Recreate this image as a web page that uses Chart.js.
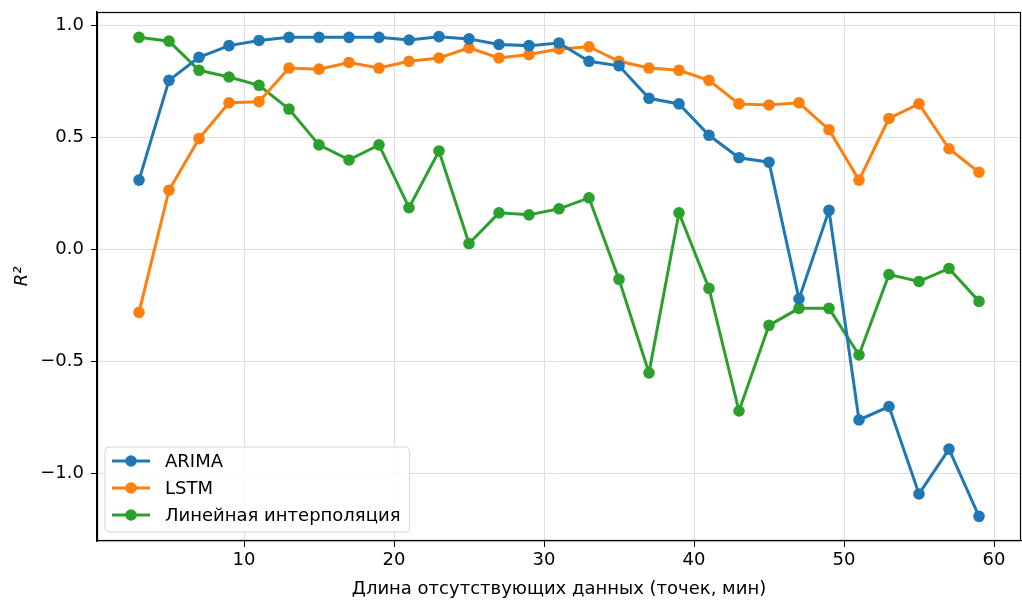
<!DOCTYPE html>
<html>
<head>
<meta charset="utf-8">
<script src="https://cdn.jsdelivr.net/npm/chart.js@4/dist/chart.umd.min.js"></script>
<style>
  html, body { margin: 0; padding: 0; background: #ffffff; }
  #wrap { width: 1022px; height: 600px; }
</style>
</head>
<body>
<div id="wrap"><canvas id="c" width="1022" height="600"></canvas></div>
<script>
// ---- data ----
const gapLengths = [3, 5, 7, 9, 11, 13, 15, 17, 19, 21, 23, 25, 27, 29, 31, 33, 35, 37, 39, 41, 43, 45, 47, 49, 51, 53, 55, 57, 59];
const arimaR2 = [0.31, 0.755, 0.858, 0.91, 0.933, 0.947, 0.947, 0.947, 0.947, 0.935, 0.95, 0.94, 0.915, 0.91, 0.922, 0.84, 0.82, 0.675, 0.65, 0.51, 0.41, 0.39, -0.22, 0.175, -0.76, -0.70, -1.09, -0.89, -1.19];
const lstmR2 = [-0.28, 0.265, 0.495, 0.655, 0.66, 0.81, 0.805, 0.835, 0.81, 0.84, 0.855, 0.90, 0.855, 0.87, 0.895, 0.905, 0.84, 0.81, 0.80, 0.755, 0.65, 0.645, 0.655, 0.535, 0.31, 0.585, 0.65, 0.45, 0.345];
const linearR2 = [0.947, 0.93, 0.80, 0.77, 0.733, 0.627, 0.467, 0.40, 0.467, 0.187, 0.44, 0.027, 0.164, 0.155, 0.182, 0.231, -0.133, -0.55, 0.164, -0.173, -0.72, -0.338, -0.262, -0.262, -0.47, -0.111, -0.142, -0.084, -0.231];
const seriesNames = ['ARIMA', 'LSTM', 'Линейная интерполяция'];
const xTickValues = [10, 20, 30, 40, 50, 60];
const yTickValues = [-1.0, -0.5, 0.0, 0.5, 1.0];
const xAxisTitle = 'Длина отсутствующих данных (точек, мин)';
const yAxisTitle = 'R²';

// ---- styles ----
const colors = ['#1f77b4', '#ff7f0e', '#2ca02c'];
const FONT = "'DejaVu Sans', sans-serif";
const FS = 18;

function toPoints(ys) { return gapLengths.map((x, i) => ({ x: x, y: ys[i] })); }
const seriesValues = [arimaR2, lstmR2, linearR2];

const datasets = seriesValues.map((vals, i) => ({
  label: seriesNames[i],
  data: toPoints(vals),
  borderColor: colors[i],
  backgroundColor: colors[i],
  pointBackgroundColor: colors[i],
  pointBorderColor: colors[i],
  borderWidth: 3,
  pointRadius: 5.8,
  pointBorderWidth: 0,
  tension: 0,
  fill: false
}));

const framePlugin = {
  id: 'frame',
  afterDraw(chart) {
    const a = chart.chartArea, ctx = chart.ctx;
    ctx.save();
    ctx.strokeStyle = '#000';
    ctx.lineWidth = 1.2;
    ctx.strokeRect(Math.round(a.left) + 0.5, Math.round(a.top) + 0.5, Math.round(a.right - a.left) - 1, Math.round(a.bottom - a.top) - 1);
    ctx.restore();
  }
};

const innerLegend = {
  id: 'innerLegend',
  afterDraw(chart) {
    const ctx = chart.ctx, a = chart.chartArea;
    const ds = chart.data.datasets;
    ctx.save();
    ctx.font = FS + 'px ' + FONT;
    let maxW = 0;
    ds.forEach(d => { maxW = Math.max(maxW, ctx.measureText(d.label).width); });
    const rowH = 27;
    const h = 85;
    const w = 60 + maxW + 9;
    const left = a.left + 8, top = a.bottom - 9 - h;
    const r = 4;
    ctx.beginPath();
    ctx.moveTo(left + r, top);
    ctx.lineTo(left + w - r, top);
    ctx.quadraticCurveTo(left + w, top, left + w, top + r);
    ctx.lineTo(left + w, top + h - r);
    ctx.quadraticCurveTo(left + w, top + h, left + w - r, top + h);
    ctx.lineTo(left + r, top + h);
    ctx.quadraticCurveTo(left, top + h, left, top + h - r);
    ctx.lineTo(left, top + r);
    ctx.quadraticCurveTo(left, top, left + r, top);
    ctx.closePath();
    ctx.fillStyle = 'rgba(255,255,255,0.8)';
    ctx.fill();
    ctx.strokeStyle = '#d6d6d6';
    ctx.lineWidth = 1;
    ctx.stroke();
    ds.forEach((d, i) => {
      const cy = top + 14 + i * rowH;
      ctx.strokeStyle = d.borderColor;
      ctx.lineWidth = 3;
      ctx.beginPath();
      ctx.moveTo(left + 7, cy);
      ctx.lineTo(left + 45, cy);
      ctx.stroke();
      ctx.fillStyle = d.borderColor;
      ctx.beginPath();
      ctx.arc(left + 26, cy, 5.8, 0, Math.PI * 2);
      ctx.fill();
      ctx.fillStyle = '#000';
      ctx.textBaseline = 'middle';
      ctx.textAlign = 'left';
      ctx.fillText(d.label, left + 60, cy + 1);
    });
    ctx.restore();
  }
};

function fmtY(v) {
  const s = Math.abs(v).toFixed(1);
  return (v < 0 ? '\u2212' : '') + s;
}

new Chart(document.getElementById('c'), {
  type: 'line',
  data: { datasets: datasets },
  options: {
    responsive: false,
    animation: false,
    devicePixelRatio: 1,
    layout: { autoPadding: false, padding: { top: 12, right: 1, left: 0, bottom: 0 } },
    plugins: {
      legend: { display: false },
      tooltip: { enabled: false }
    },
    scales: {
      x: {
        type: 'linear',
        min: 0.2,
        max: 61.8,
        afterBuildTicks(scale) { scale.ticks = xTickValues.map(v => ({ value: v })); },
        afterFit(scale) { scale.height = 59; scale.paddingLeft = 0; scale.paddingRight = 0; },
        grid: { color: '#dedede', lineWidth: 1, tickColor: '#000', tickLength: 6, drawTicks: true },
        border: { color: '#000', width: 1.2 },
        ticks: {
          color: '#000',
          font: { family: FONT, size: FS },
          padding: 3,
          maxRotation: 0,
          callback: v => String(v)
        },
        title: {
          display: true,
          text: xAxisTitle,
          color: '#000',
          font: { family: FONT, size: FS },
          padding: { top: 1, bottom: 0 }
        }
      },
      y: {
        type: 'linear',
        min: -1.30,
        max: 1.06,
        afterBuildTicks(scale) { scale.ticks = yTickValues.map(v => ({ value: v })); },
        afterFit(scale) { scale.width = 97; scale.paddingTop = 0; scale.paddingBottom = 0; },
        grid: { color: '#dedede', lineWidth: 1, tickColor: '#000', tickLength: 6, drawTicks: true },
        border: { color: '#000', width: 1.2 },
        ticks: {
          color: '#000',
          font: { family: FONT, size: FS },
          padding: 7,
          callback: v => fmtY(v)
        },
        title: {
          display: true,
          text: yAxisTitle,
          color: '#000',
          font: { family: FONT, size: FS, style: 'italic' },
          padding: { top: 12, bottom: 0 }
        }
      }
    }
  },
  plugins: [framePlugin, innerLegend]
});
</script>
</body>
</html>
